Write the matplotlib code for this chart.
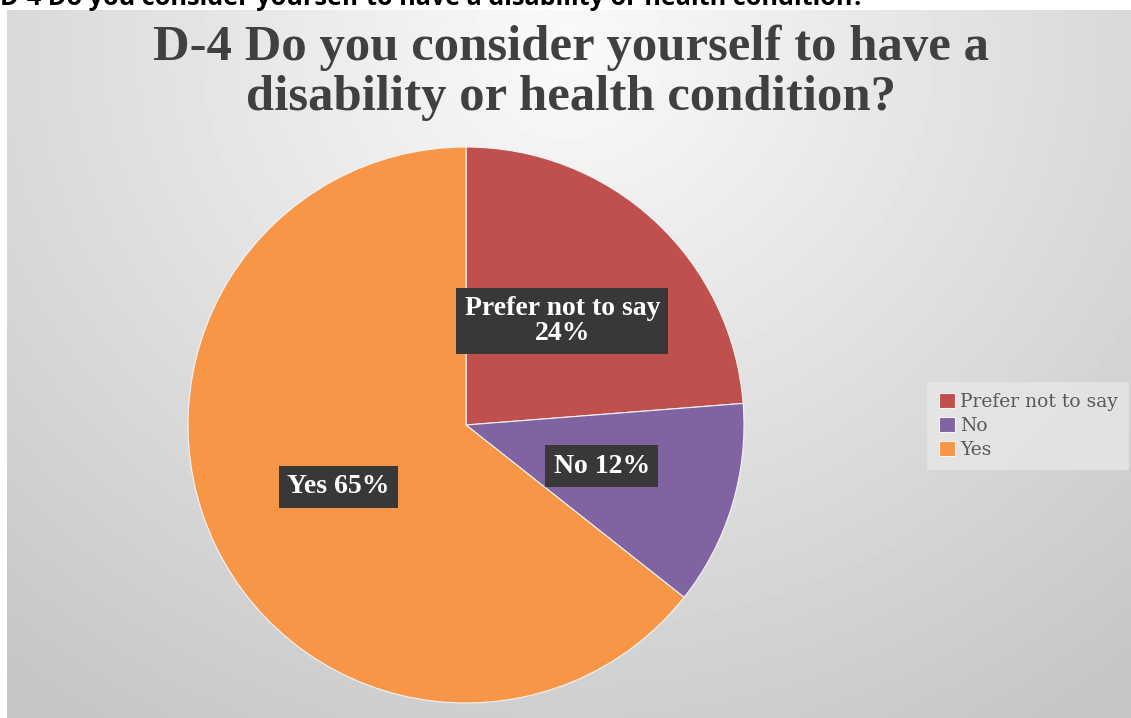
import matplotlib
matplotlib.use("Agg")
import matplotlib.pyplot as plt
import numpy as np

# survey answers, percent
answers = ["Prefer not to say", "No", "Yes"]
shares = [24, 12, 65]
colours = ["#C0504D", "#8064A2", "#F79646"]

question = "D-4 Do you consider yourself to have a\ndisability or health condition?"
heading = "D-4 Do you consider yourself to have a disability or health condition?"

W, H = 1131, 718
fig = plt.figure(figsize=(W / 100, H / 100), dpi=100)
fig.patch.set_facecolor("white")

# chart area with a soft radial grey fill
bg = fig.add_axes([7 / W, 0, 1 - 7 / W, (H - 10) / H])
bg.set_axis_off()
yy, xx = np.mgrid[0:708, 0:1124]
dist = np.hypot((xx - 560) / 900.0, (yy - 40) / 820.0)
shade = np.clip(0.98 - 0.21 * dist, 0.77, 1.0)
bg.imshow(shade, cmap="gray", vmin=0, vmax=1, aspect="auto",
          extent=[0, 1, 0, 1], origin="upper")
bg.set_xlim(0, 1)
bg.set_ylim(0, 1)

# caption above the chart, only its lower part fits on the page
fig.text(0.0, 1 - 5 / H, heading, fontsize=18.2, fontweight="bold",
         family="Open Sans", color="black", ha="left", va="baseline")

fig.text(571 / W, 1 - 73 / H, question, fontsize=36.5, fontweight="bold",
         family="Liberation Serif", color="#404040", ha="center",
         va="center", linespacing=1.12)

cx, cy, r = 466, 425, 278
ax = fig.add_axes([(cx - r) / W, (H - cy - r) / H, 2 * r / W, 2 * r / H])
ax.set_axis_off()
wedges, _ = ax.pie(shares, colors=colours, startangle=90, counterclock=False,
                   wedgeprops=dict(edgecolor="#f4f4f4", linewidth=0.8))
ax.set_xlim(-1, 1)
ax.set_ylim(-1, 1)

texts = ["Prefer not to say\n24%", "No 12%", "Yes 65%"]
for w, t in zip(wedges, texts):
    mid = np.deg2rad((w.theta1 + w.theta2) / 2)
    ax.text(0.51 * np.cos(mid), 0.51 * np.sin(mid), t, color="white",
            fontsize=20, fontweight="bold", family="Liberation Serif",
            ha="center", va="center", linespacing=1.0,
            bbox=dict(boxstyle="square,pad=0.3", facecolor="#383838",
                      edgecolor="none"))

leg = fig.legend(wedges, answers, loc="center left",
                 bbox_to_anchor=(918 / W, 1 - 426 / H), frameon=True,
                 prop=dict(family="DejaVu Serif", size=13.5),
                 handlelength=0.85, handleheight=0.85, handletextpad=0.3,
                 labelspacing=0.3, borderpad=0.6, fancybox=False)
leg.get_frame().set_facecolor("#e7e7e7")
leg.get_frame().set_edgecolor("none")
for txt in leg.get_texts():
    txt.set_color("#595959")

fig.savefig("out.png", dpi=100)
